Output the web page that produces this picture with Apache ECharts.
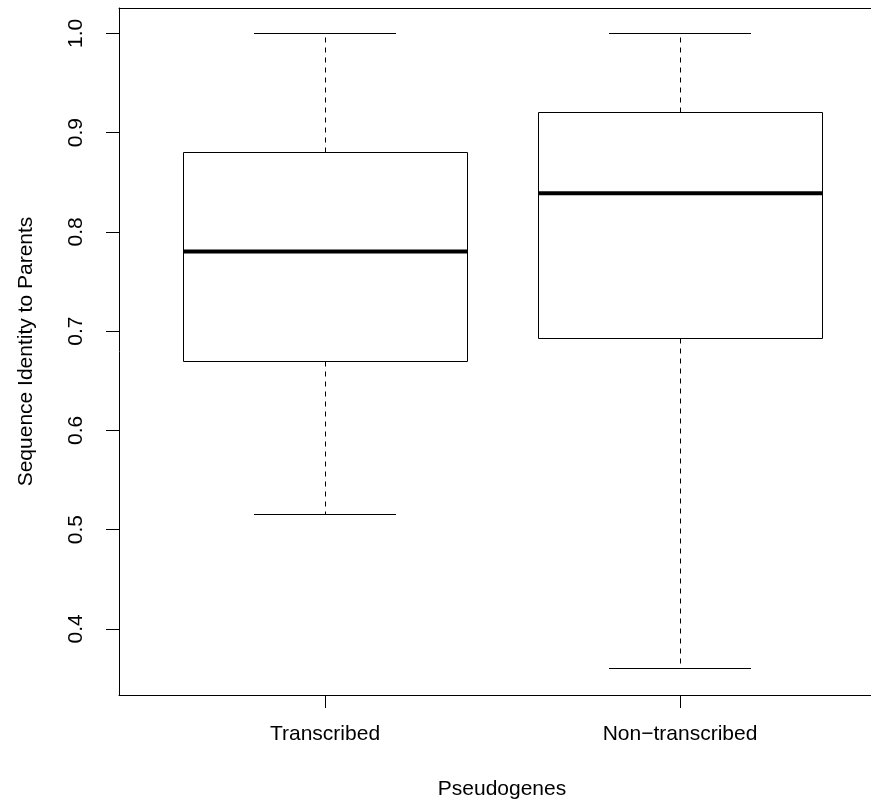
<!DOCTYPE html>
<html>
<head>
<meta charset="utf-8">
<script src="https://cdn.jsdelivr.net/npm/echarts@6/dist/echarts.min.js"></script>
<style>
html,body{margin:0;padding:0;background:#fff;}
#chart{width:871px;height:805px;}
</style>
</head>
<body>
<div id="chart"></div>
<script>
const categories = ['Transcribed', 'Non\u2212transcribed'];
const whiskerLow = [0.515, 0.360];
const q1 = [0.6695, 0.6923];
const medians = [0.7803, 0.8390];
const q3 = [0.880, 0.9203];
const whiskerHigh = [1.0, 1.0];
const yTicks = [0.4, 0.5, 0.6, 0.7, 0.8, 0.9, 1.0];
const xTicks = [1, 2];

const FONT = '"Liberation Sans", Arial, Helvetica, sans-serif';
const X_MIN = 0.4197, X_MAX = 2.538;
const boxData = categories.map((c, i) => [i + 1, whiskerLow[i], q1[i], medians[i], q3[i], whiskerHigh[i]]);

const chart = echarts.init(document.getElementById('chart'), null, {renderer: 'canvas'});

function snap(v) { return Math.round(v - 0.5) + 0.5; }

const option = {
  animation: false,
  backgroundColor: '#ffffff',
  grid: {left: 119, right: 0, top: 8, bottom: 110, show: false},
  xAxis: [{
    type: 'value', min: X_MIN, max: X_MAX,
    name: 'Pseudogenes', nameLocation: 'middle', nameGap: 84,
    nameTextStyle: {fontFamily: FONT, fontSize: 21, color: '#000', padding: [0, 0, 0, 14]},
    axisLine: {show: true, onZero: false, lineStyle: {color: '#000', width: 1}},
    axisTick: {show: true, length: 13, lineStyle: {color: '#000', width: 1}, customValues: xTicks},
    axisLabel: {
      fontFamily: FONT, fontSize: 21, color: '#000', margin: 29,
      customValues: xTicks,
      formatter: function (v) { return categories[Math.round(v) - 1] || ''; }
    },
    splitLine: {show: false}
  }, {
    type: 'value', min: X_MIN, max: X_MAX, position: 'top',
    axisLine: {show: true, onZero: false, lineStyle: {color: '#000', width: 1}},
    axisTick: {show: false}, axisLabel: {show: false}, splitLine: {show: false}
  }],
  yAxis: {
    type: 'value', min: 0.3334, max: 1.0256,
    name: 'Sequence Identity to Parents', nameLocation: 'middle', nameGap: 82,
    nameTextStyle: {fontFamily: FONT, fontSize: 21, color: '#000'},
    axisLine: {show: true, onZero: false, lineStyle: {color: '#000', width: 1}},
    axisTick: {show: true, length: 13, lineStyle: {color: '#000', width: 1}, customValues: yTicks},
    axisLabel: {
      fontFamily: FONT, fontSize: 21, color: '#000', margin: 32, rotate: 90,
      customValues: yTicks,
      formatter: function (v) { return v.toFixed(1); }
    },
    splitLine: {show: false}
  },
  series: [{
    type: 'custom',
    xAxisIndex: 0,
    data: boxData,
    encode: {x: 0, y: [1, 2, 3, 4, 5]},
    renderItem: function (params, api) {
      const x = api.value(0);
      const pLow = api.coord([x, api.value(1)]);
      const pQ1 = api.coord([x, api.value(2)]);
      const pMed = api.coord([x, api.value(3)]);
      const pQ3 = api.coord([x, api.value(4)]);
      const pHigh = api.coord([x, api.value(5)]);
      const left = api.coord([x - 0.4, api.value(2)])[0];
      const right = api.coord([x + 0.4, api.value(2)])[0];
      const capL = api.coord([x - 0.2, api.value(2)])[0];
      const capR = api.coord([x + 0.2, api.value(2)])[0];
      const cx = snap(pMed[0]);
      const thin = {stroke: '#000', lineWidth: 1, fill: null};
      const dashed = {stroke: '#000', lineWidth: 1, lineDash: [5, 5]};
      return {
        type: 'group',
        children: [
          {type: 'line', shape: {x1: cx, y1: snap(pQ3[1]), x2: cx, y2: snap(pHigh[1])}, style: dashed},
          {type: 'line', shape: {x1: cx, y1: snap(pQ1[1]), x2: cx, y2: snap(pLow[1])}, style: dashed},
          {type: 'line', shape: {x1: capL, y1: snap(pHigh[1]), x2: capR, y2: snap(pHigh[1])}, style: thin},
          {type: 'line', shape: {x1: capL, y1: snap(pLow[1]), x2: capR, y2: snap(pLow[1])}, style: thin},
          {type: 'rect', shape: {x: snap(left), y: snap(pQ3[1]), width: Math.round(right - left), height: Math.round(pQ1[1] - pQ3[1])}, style: {stroke: '#000', lineWidth: 1, fill: '#fff'}},
          {type: 'line', shape: {x1: snap(left), y1: pMed[1], x2: snap(left) + Math.round(right - left), y2: pMed[1]}, style: {stroke: '#000', lineWidth: 4}}
        ]
      };
    }
  }]
};
chart.setOption(option);
</script>
</body>
</html>
